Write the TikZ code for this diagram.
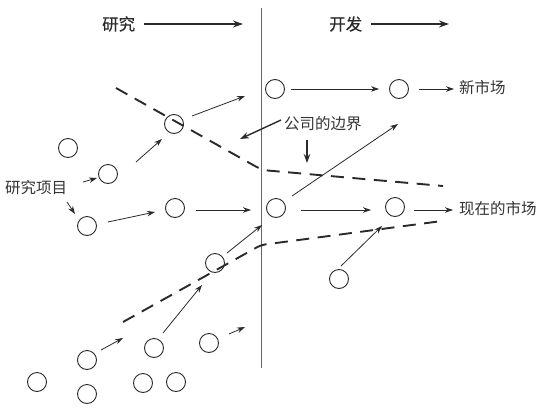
\documentclass[tikz,border=0pt]{standalone}
\usepackage{fontspec}
\newfontfamily\cjk{Noto Sans CJK SC}
\newfontfamily\cjkb[FakeBold=0.35]{Noto Sans CJK SC}
\usetikzlibrary{arrows.meta}
\definecolor{ink}{HTML}{2A2A2A}
\definecolor{txt}{HTML}{333333}
\tikzset{
  circ/.style={circle,draw=ink,line width=0.9pt,minimum size=19pt,inner sep=0pt},
  arr/.style={draw=ink,line width=0.8pt,-{Stealth[length=8pt,width=5.5pt]}},
  bigarr/.style={draw=ink,line width=1.6pt,-{Stealth[length=10pt,width=7pt]}},
  midarr/.style={draw=ink,line width=1.4pt,-{Stealth[length=9pt,width=6.5pt]}},
  bound/.style={draw=ink,line width=1.9pt,dash pattern=on 13pt off 8.5pt},
  lbl/.style={inner sep=0pt,text=txt,font=\cjk\fontsize{15.5pt}{18pt}\selectfont},
  ttl/.style={inner sep=0pt,text=ink,font=\cjkb\fontsize{16.5pt}{19pt}\selectfont},
}
\begin{document}
\begin{tikzpicture}[x=1pt,y=-1pt]
\useasboundingbox (0,0) rectangle (552,413);
% vertical divider
\coordinate (vt) at (261,8);
\coordinate (vb) at (261,368);
\draw[draw=black!60,line width=1pt] (vt) -- (vb);
% titles
\node[ttl,anchor=west] (tres) at (102,24) {研究};
\node[ttl,anchor=west] (tdev) at (329,24) {开发};
\coordinate (tresE) at (243,24);
\coordinate (tdevE) at (449,24);
\draw[bigarr] ([xshift=9pt]tres.east) -- (tresE);
\draw[bigarr] ([xshift=9pt]tdev.east) -- (tdevE);
% circles
\node[circ] (c1) at (275,89) {};
\node[circ] (c2) at (399,89) {};
\node[circ] (c3) at (174,124) {};
\node[circ] (c4) at (68,148) {};
\node[circ] (c5) at (108,174) {};
\node[circ] (c6) at (175,208) {};
\node[circ] (c7) at (87,226) {};
\node[circ] (c8) at (276,208) {};
\node[circ] (c9) at (395,207) {};
\node[circ] (c10) at (215,263) {};
\node[circ] (c11) at (339,279) {};
\node[circ] (c12) at (87,360) {};
\node[circ] (c13) at (154,348) {};
\node[circ] (c14) at (209,343) {};
\node[circ] (c15) at (37,382) {};
\node[circ] (c16) at (87,394) {};
\node[circ] (c17) at (143,383) {};
\node[circ] (c18) at (176,382) {};
% labels
\node[lbl,anchor=west] (newm) at (459,88) {新市场};
\node[lbl,anchor=west] (curm) at (459,209) {现在的市场};
\node[lbl,anchor=west] (proj) at (5,188) {研究项目};
\node[lbl,anchor=west] (firm) at (284,124) {公司的边界};
% boundaries
\coordinate (u1) at (116,88);
\coordinate (u2) at (262,170);
\coordinate (u3) at (443,186);
\draw[bound,rounded corners=6pt] (u1) -- (u2) -- (u3);
\coordinate (l1) at (123,322);
\coordinate (l2) at (261,245);
\coordinate (l3) at (442,221);
\draw[bound,rounded corners=4pt] (l1) -- (l2) -- (l3);
% arrow end points
\coordinate (a3s) at (192,116); \coordinate (a3e) at (245,96);
\coordinate (a5s) at (136,162); \coordinate (a5e) at (162,139);
\coordinate (p5s) at (83,182);  \coordinate (p5e) at (97,178);
\coordinate (p7s) at (67,202);  \coordinate (p7e) at (75,214);
\coordinate (a7s) at (108,222); \coordinate (a7e) at (155,212);
\coordinate (a6s) at (196,210); \coordinate (a6e) at (251,210);
\coordinate (a8s) at (301,210); \coordinate (a8e) at (371,210);
\coordinate (a9s) at (414,210); \coordinate (a9e) at (453,210);
\coordinate (b8s) at (292,196); \coordinate (b8e) at (398,124);
\coordinate (a10s) at (227,253); \coordinate (a10e) at (262,225);
\coordinate (a13s) at (163,333); \coordinate (a13e) at (202,285);
\coordinate (a12s) at (101,350); \coordinate (a12e) at (123,338);
\coordinate (a14s) at (229,334); \coordinate (a14e) at (245,327);
\coordinate (a11s) at (341,266); \coordinate (a11e) at (382,226);
\coordinate (f1s) at (281,120); \coordinate (f1e) at (240,139);
\coordinate (f2s) at (307,140); \coordinate (f2e) at (307,163);
% arrows
\draw[arr,shorten <=6pt,shorten >=10pt] (c1) -- (c2);
\draw[arr,shorten <=10pt,shorten >=5pt] (c2) -- (c2 -| newm.west);
\draw[arr] (a3s) -- (a3e);
\draw[arr] (a5s) -- (a5e);
\draw[arr] (p5s) -- (p5e);
\draw[arr] (p7s) -- (p7e);
\draw[arr] (a7s) -- (a7e);
\draw[arr] (a6s) -- (a6e);
\draw[arr] (a8s) -- (a8e);
\draw[arr] (a9s) -- (a9e);
\draw[arr] (b8s) -- (b8e);
\draw[arr] (a10s) -- (a10e);
\draw[arr] (a13s) -- (a13e);
\draw[arr] (a12s) -- (a12e);
\draw[arr] (a14s) -- (a14e);
\draw[arr] (a11s) -- (a11e);
\draw[midarr] (f1s) -- (f1e);
\draw[midarr] (f2s) -- (f2e);
\end{tikzpicture}
\end{document}
